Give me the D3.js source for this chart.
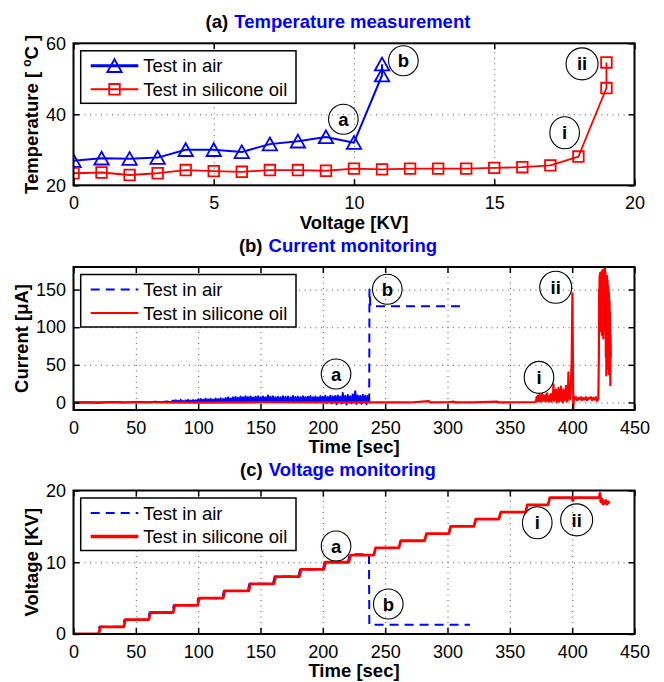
<!DOCTYPE html>
<html>
<head>
<meta charset="utf-8">
<script src="https://cdn.jsdelivr.net/npm/d3@7"></script>
<style>
  body { margin: 0; background: #fff; }
  svg { display: block; font-family: "Liberation Sans", Arial, Helvetica, sans-serif; }
</style>
</head>
<body>
<svg id="fig" width="664" height="682"></svg>
<script>
// ---------------- data ----------------
// (a) temperature vs applied voltage
const airTempKV   = [0, 1, 2, 3, 4, 5, 6, 7, 8, 9, 10, 11, 11];
const airTempC    = [26.9, 27.6, 27.5, 27.8, 30.0, 30.0, 29.4, 31.6, 32.4, 33.6, 32.0, 51.0, 54.1];
const oilTempKV   = [0, 1, 2, 3, 4, 5, 6, 7, 8, 9, 10, 11, 12, 13, 14, 15, 16, 17, 18, 19, 19];
const oilTempC    = [23.4, 23.6, 22.9, 23.4, 24.3, 24.0, 23.8, 24.3, 24.3, 24.1, 24.7, 24.5, 24.7, 24.7, 24.7, 24.9, 25.1, 25.6, 28.1, 47.4, 54.6];

// (b) leakage current [uA] vs time [s]
const airCurrent = [
  [0,0],[10,0.4],[20,-0.3],[30,0.5],[40,-0.2],[50,0.6],[60,0.3],[66,1.0],[70,0.2],[75,1.2],[78,0.1],
  [80,2.5],[81,0.2],[82,3.0],[83,0.5],[84,2.2],[85,0],[86,3.4],[87,0.4],[88,2.0],[89,0.1],
  [90,2.8],[91,0.3],[92,3.5],[93,0.2],[94,2.6],[95,0.4],[96,3.2],[97,0],[98,2.9],[99,0.3],
  [100,4.0],[101,0.5],[102,4.6],[103,0.3],[104,3.8],[105,0.6],[106,5.0],[107,0.2],[108,4.2],[109,0.8],
  [110,4.8],[111,0.4],[112,3.9],[113,0.5],[114,5.2],[115,0.3],[116,4.5],[117,0.7],[118,5.6],[119,0.4],
  [120,4.7],[121,0.6],[122,5.8],[123,0.2],[124,6.5],[125,0.5],[126,5.4],[127,0.8],[128,6.8],[129,0.3],
  [130,7.2],[131,0.6],[132,6.4],[133,1.0],[134,7.8],[135,0.4],[136,6.9],[137,0.7],[138,8.4],[139,0.5],
  [140,7.1],[141,0.9],[142,8.0],[143,0.3],[144,6.6],[145,0.8],[146,7.5],[147,0.6],[148,8.2],[149,0.4],
  [150,7.0],[151,1.0],[152,7.9],[153,0.5],[154,6.8],[155,0.7],[156,9.3],[157,0.4],[158,7.6],[159,0.9],
  [160,8.1],[161,0.3],[162,7.0],[163,0.8],[164,7.7],[165,0.5],[166,6.9],[167,1.0],[168,8.3],[169,0.6],
  [170,7.2],[171,0.4],[172,7.9],[173,0.8],[174,6.7],[175,0.5],[176,8.6],[177,0.3],[178,7.3],[179,0.9],
  [180,7.8],[181,0.4],[182,6.9],[183,0.7],[184,8.4],[185,0.5],[186,7.1],[187,1.0],[188,7.7],[189,0.3],
  [190,8.5],[191,0.6],[192,7.0],[193,0.8],[194,7.9],[195,0.4],[196,6.8],[197,0.7],[198,8.3],[199,0.5],
  [200,7.6],[201,0.2],[202,8.8],[203,-0.5],[204,7.4],[205,0.6],[206,9.0],[207,-1.0],[208,8.1],[209,0.3],
  [210,8.7],[211,-2.5],[212,9.4],[213,0.4],[214,7.8],[215,-1.5],[216,12.5],[217,0.2],[218,8.6],[219,-2.8],
  [220,9.8],[221,0.5],[222,8.4],[223,-1.2],[224,10.6],[225,0.3],[226,15.0],[227,-2.0],[228,9.2],[229,0.6],
  [230,8.7],[231,-1.8],[232,10.4],[233,0.4],[234,9.0],[235,-2.4],[236,8.8],[237,0.5],
  [237.2,0],[237.4,150],[238.2,128],[311,128]
];
const oilCurrent = [
  [0,0],[50,0.3],[100,-0.2],[150,0.3],[200,0],[240,0.2],[270,0],[285,1.8],[286,0],[300,0.3],
  [305,1.2],[306,0],[320,0.2],[340,1.0],[341,0],[355,0.3],[370,0.5],
  [371,2],[371.5,7],[372,1],[372.5,9],[373,2],[373.5,6],[374,10],[374.5,1],[375,8],[375.5,3],
  [376,11],[376.5,2],[377,9],[377.5,4],[378,8],[378.5,1],[379,10],[379.5,3],[380,12],[380.5,2],
  [381,7],[381.5,1],[382,9],[382.5,3],[383,11],[383.5,1],[384,10],[384.5,6],[385,24],[385.5,2],
  [386,14],[386.5,5],[387,17],[387.5,0],[388,12],[388.5,3],[389,19],[389.5,1],[390,15],[390.5,4],
  [391,21],[391.5,2],[392,12],[392.5,0],[393,17],[393.5,3],[394,11],[394.5,5],[395,22],[395.5,1],
  [396,14],[396.5,3],[397,40],[397.5,6],[398,18],[398.5,4],[399,26],[399.6,55],
  [400.2,145],[400.6,60],[400.9,-9],[401.4,8],
  [402,4],[403,7],[404,3],[405,6],[406,4],[407,7],[408,3],[409,6],[410,4],[411,7],
  [412,3],[413,6],[414,5],[415,7],[416,3],[417,6],[418,4],[419,7],[420,2],[421,5],
  [421.4,60],[421.6,150],[421.8,120],[422,168],[422.2,105],[422.4,172],[422.6,95],[422.8,170],
  [423,115],[423.2,165],[423.4,100],[423.6,174],[423.8,90],[424,168],[424.2,120],[424.4,176],
  [424.6,105],[424.8,170],[425,85],[425.2,162],[425.4,110],[425.6,172],[425.8,95],[426,178],
  [426.2,100],[426.4,180],[426.6,120],[426.8,172],[427,60],[427.2,165],[427.4,36],[427.6,158],
  [427.8,80],[428,168],[428.2,55],[428.4,162],[428.6,45],[428.8,155],[429,70],[429.2,150],
  [429.4,38],[429.6,145],[429.8,60],[430,135],[430.2,40],[430.4,120],[430.6,23],[430.8,90],[431,60]
];

// (c) applied voltage [KV] vs time [s]
const airVoltage = [
  [0,0],[19.6,0],[20.8,1],[39.6,1],[40.9,2],[59.7,2],[61,3],[79.2,3],[80.4,4],[98.9,4],
  [100.1,5],[119.3,5],[120.6,6],[139.8,6],[141.1,7],[160,7],[161.3,8],[180.4,8],[181.7,9],
  [200.1,9],[201.4,10],[220.1,10],[221.5,11.1],[237,11.1],[237.3,1.3],[318,1.3]
];
const oilVoltage = [
  [0,0],[20.2,0],[21.5,1],[40.3,1],[41.6,2],[60.4,2],[61.8,3],[80,3],[81.3,4],[99.6,4],
  [100.9,5],[120,5],[121.4,6],[140.6,6],[141.9,7],[160.7,7],[162.2,8],[181.2,8],[182.5,9],
  [200.8,9],[202.2,10],[220.8,10],[222.3,11],[240.9,11],[242.3,12],[261,12],[262.5,13],
  [281.6,13],[283.2,14],[301.1,14],[302.6,15],[321.2,15],[322.7,16],[341.2,16],[342.8,17],
  [362.6,17],[364.1,18],[380.6,18],[382.1,19],[399.5,19],[400.5,18.6],[401.5,19],[421.8,19],
  [422.3,19.6],[423,18.4],[424,18.8],[424.8,18.1],[425.6,18.5],[426.4,18.2],[427.2,18.6],
  [428,18.1],[429,18.4],[430,18.2]
];

// tick values
const tempXTicks = [0, 5, 10, 15, 20];
const tempYTicks = [20, 40, 60];
const timeXTicks = [0, 50, 100, 150, 200, 250, 300, 350, 400, 450];
const currentYTicks = [0, 50, 100, 150];
const voltageYTicks = [0, 10, 20];

// circled markers (label, x, y in data units)
const tempNotes    = [["a", 9.62, 38.6], ["b", 11.76, 55.1], ["i", 17.51, 34.8], ["ii", 18.13, 54.2]];
const currentNotes = [["a", 210.6, 37.8], ["b", 251.7, 150.4], ["i", 373.4, 33.4], ["ii", 386.8, 153.0]];
const voltageNotes = [["a", 210.6, 12.26], ["b", 252.5, 4.18], ["i", 372.0, 15.5], ["ii", 403.6, 15.9]];

// ---------------- drawing ----------------
const svg = d3.select("#fig");
const BLUE = "#0000ff", RED = "#ff0000";
const X0 = 73.5, X1 = 634.5;
const TITLE_CX = 338;

function drawPanel(cfg) {
  const g = svg.append("g");
  const x = d3.scaleLinear().domain(cfg.xDomain).range([X0, X1]);
  const y = d3.scaleLinear().domain(cfg.yDomain).range([cfg.bottom, cfg.top]);
  const h = cfg.bottom - cfg.top;

  const clipId = "clip-" + cfg.id;
  svg.append("clipPath").attr("id", clipId)
    .append("rect").attr("x", X0).attr("y", cfg.top).attr("width", X1 - X0).attr("height", h);

  // dotted grid
  const gridX = g.append("g").attr("transform", `translate(0,${cfg.bottom})`)
    .call(d3.axisBottom(x).tickValues(cfg.xTicks.filter(v => v > cfg.xDomain[0] && v < cfg.xDomain[1]))
      .tickSize(-h).tickFormat(""));
  const gridY = g.append("g").attr("transform", `translate(${X0},0)`)
    .call(d3.axisLeft(y).tickValues(cfg.yTicks.filter(v => v > cfg.yDomain[0] && v < cfg.yDomain[1]))
      .tickSize(-(X1 - X0)).tickFormat(""));
  [gridX, gridY].forEach(s => {
    s.select(".domain").remove();
    s.selectAll("line").attr("stroke", "#555").attr("stroke-width", 1).attr("stroke-dasharray", "1,4.5");
  });

  // data layer
  const plot = g.append("g").attr("clip-path", `url(#${clipId})`);
  const line = d3.line().x(d => x(d[0])).y(d => y(d[1]));
  cfg.series.forEach(s => {
    // densely sampled noise renders as a solid band; the sparse remainder keeps the dash style
    const parts = s.denseUntil != null
      ? [{d: s.data.filter(d => d[0] <= s.denseUntil), dash: null},
         {d: s.data.filter(d => d[0] >= s.denseUntil), dash: s.dash}]
      : [{d: s.data, dash: s.dash}];
    parts.forEach(p => {
      plot.append("path").datum(p.d)
        .attr("d", line).attr("fill", "none")
        .attr("stroke", s.color).attr("stroke-width", s.width)
        .attr("stroke-linejoin", "round")
        .attr("stroke-dasharray", p.dash || null);
    });
    if (s.marker) {
      plot.selectAll(null).data(s.data).enter().append("path")
        .attr("transform", d => `translate(${x(d[0])},${y(d[1])})`)
        .attr("d", s.marker).attr("fill", "none")
        .attr("stroke", s.color).attr("stroke-width", 1.8);
    }
  });

  // box and inward ticks on all four sides
  const tick = (axis, tx, ty) => {
    const a = g.append("g").attr("transform", `translate(${tx},${ty})`).call(axis);
    a.select(".domain").remove();
    a.selectAll("line").attr("stroke", "#000").attr("stroke-width", 1.5);
    return a;
  };
  const bx = tick(d3.axisBottom(x).tickValues(cfg.xTicks).tickSize(-6).tickPadding(11), 0, cfg.bottom);
  tick(d3.axisTop(x).tickValues(cfg.xTicks).tickSize(-6).tickFormat(""), 0, cfg.top);
  const ly = tick(d3.axisLeft(y).tickValues(cfg.yTicks).tickSize(-6).tickPadding(7.5), X0, 0);
  tick(d3.axisRight(y).tickValues(cfg.yTicks).tickSize(-6).tickFormat(""), X1, 0);
  [bx, ly].forEach(a => a.selectAll("text")
    .attr("font-size", 18).attr("fill", "#000")
    .attr("font-family", '"Liberation Sans", Arial, Helvetica, sans-serif'));
  g.append("rect").attr("x", X0).attr("y", cfg.top).attr("width", X1 - X0).attr("height", h)
    .attr("fill", "none").attr("stroke", "#000").attr("stroke-width", 2);

  // axis labels
  g.append("text").attr("x", (X0 + X1) / 2).attr("y", cfg.bottom + 43.2)
    .attr("text-anchor", "middle").attr("font-size", 18.5).attr("font-weight", "bold")
    .text(cfg.xLabel);
  const yl = g.append("text")
    .attr("transform", `translate(${cfg.yLabelX},${(cfg.top + cfg.bottom) / 2}) rotate(-90)`)
    .attr("text-anchor", "middle").attr("font-size", 18.5).attr("font-weight", "bold");
  cfg.yLabel.forEach(p => {
    const t = yl.append("tspan").text(p.t);
    if (p.sup) t.attr("font-size", 12).attr("dy", -7);
    if (p.down) t.attr("dy", 7);
  });

  // title: black panel tag followed by blue caption, centred as one line
  const tg = g.append("g");
  const t1 = tg.append("text").attr("y", cfg.top - 15).attr("font-size", 18.5).attr("font-weight", "bold")
    .attr("fill", "#000").text(cfg.tag);
  const t2 = tg.append("text").attr("y", cfg.top - 15).attr("font-size", 18.5).attr("font-weight", "bold")
    .attr("fill", BLUE).text(cfg.title);
  const w1 = t1.node().getComputedTextLength(), w2 = t2.node().getComputedTextLength();
  const gap = 6;
  const start = TITLE_CX - (w1 + gap + w2) / 2;
  t1.attr("x", start);
  t2.attr("x", start + w1 + gap);

  // legend
  const lg = g.append("g");
  const ly0 = cfg.top + 7.5;
  lg.append("rect").attr("x", 80.7).attr("y", ly0).attr("width", 215.3).attr("height", 52.5)
    .attr("fill", "#fff").attr("stroke", "#000").attr("stroke-width", 1.5);
  cfg.legend.forEach((r, i) => {
    const ry = ly0 + (i === 0 ? 15 : 38.5);
    lg.append("line").attr("x1", 90.7).attr("x2", 138.3).attr("y1", ry).attr("y2", ry)
      .attr("stroke", r.color).attr("stroke-width", r.width).attr("stroke-dasharray", r.dash || null);
    if (r.marker) {
      lg.append("path").attr("transform", `translate(114.5,${ry})`).attr("d", r.marker)
        .attr("fill", "none").attr("stroke", r.color).attr("stroke-width", 1.8);
    }
    lg.append("text").attr("x", 143.3).attr("y", ry + 6.6).attr("font-size", 18.5).attr("fill", "#000")
      .text(r.label);
  });

  // circled callouts
  cfg.notes.forEach(([lab, nx, ny]) => {
    const cx = x(nx), cy = y(ny);
    const rx = lab === "ii" ? 16 : 14.8, ryy = lab === "a" || lab === "b" ? 15 : 16;
    g.append("ellipse").attr("cx", cx).attr("cy", cy).attr("rx", rx).attr("ry", ryy)
      .attr("fill", "none").attr("stroke", "#000").attr("stroke-width", 1.1);
    g.append("text").attr("x", cx).attr("y", cy + 6.6).attr("text-anchor", "middle")
      .attr("font-size", 18.5).attr("font-weight", "bold").text(lab);
  });
}

const TRI = "M0,-6.6L7.2,6.2L-7.2,6.2Z";
const SQ  = "M-5.3,-5.3H5.3V5.3H-5.3Z";

drawPanel({
  id: "temp", top: 43.3, bottom: 185.3,
  xDomain: [0, 20], yDomain: [20, 60], xTicks: tempXTicks, yTicks: tempYTicks,
  xLabel: "Voltage [KV]", yLabelX: 37.5,
  yLabel: [{t: "Temperature [ "}, {t: "o", sup: true}, {t: "C ]", down: true}],
  tag: "(a)", title: "Temperature measurement",
  series: [
    {data: airTempKV.map((v, i) => [v, airTempC[i]]), color: BLUE, width: 2, marker: TRI},
    {data: oilTempKV.map((v, i) => [v, oilTempC[i]]), color: RED, width: 1.8, marker: SQ}
  ],
  legend: [
    {label: "Test in air", color: BLUE, width: 3, marker: TRI},
    {label: "Test in silicone oil", color: RED, width: 2, marker: SQ}
  ],
  notes: tempNotes
});

drawPanel({
  id: "cur", top: 267, bottom: 410,
  xDomain: [0, 450], yDomain: [-10, 180], xTicks: timeXTicks, yTicks: currentYTicks,
  xLabel: "Time [sec]", yLabelX: 27.5,
  yLabel: [{t: "Current [\u03BCA]"}],
  tag: "(b)", title: "Current monitoring",
  series: [
    {data: airCurrent, color: BLUE, width: 2, dash: "9,6", denseUntil: 237.2},
    {data: oilCurrent, color: RED, width: 2.2}
  ],
  legend: [
    {label: "Test in air", color: BLUE, width: 2, dash: "9,6"},
    {label: "Test in silicone oil", color: RED, width: 2}
  ],
  notes: currentNotes
});

drawPanel({
  id: "volt", top: 490.5, bottom: 634,
  xDomain: [0, 450], yDomain: [0, 20], xTicks: timeXTicks, yTicks: voltageYTicks,
  xLabel: "Time [sec]", yLabelX: 37.5,
  yLabel: [{t: "Voltage [KV]"}],
  tag: "(c)", title: "Voltage monitoring",
  series: [
    {data: airVoltage, color: BLUE, width: 2, dash: "9,6"},
    {data: oilVoltage, color: RED, width: 2.8}
  ],
  legend: [
    {label: "Test in air", color: BLUE, width: 2, dash: "9,6"},
    {label: "Test in silicone oil", color: RED, width: 3.5}
  ],
  notes: voltageNotes
});
</script>
</body>
</html>
